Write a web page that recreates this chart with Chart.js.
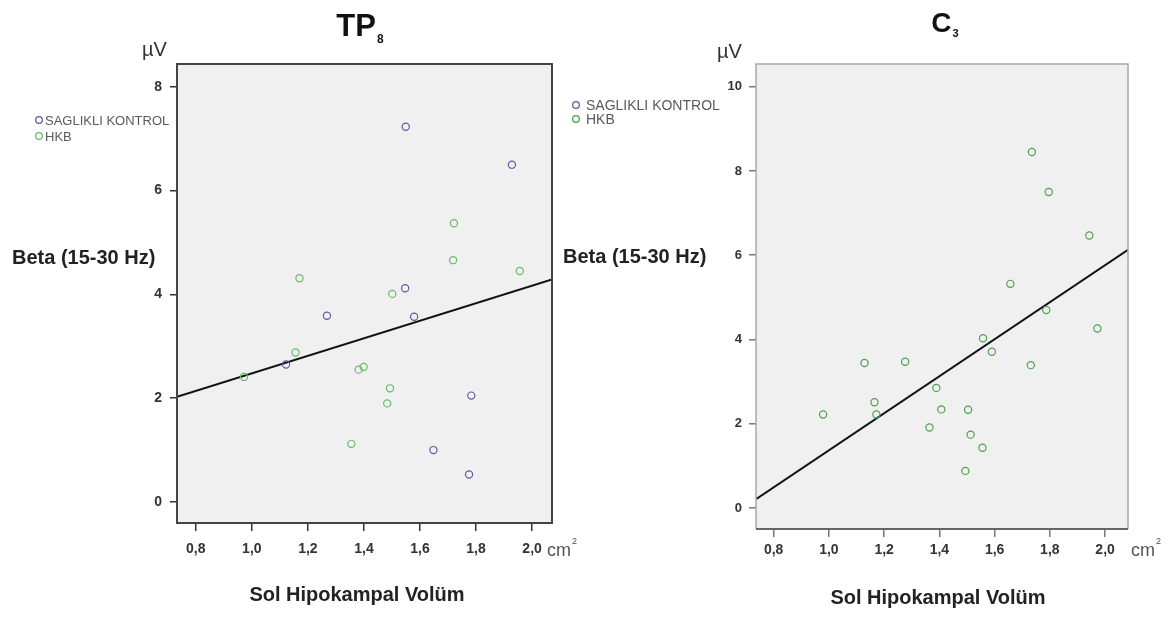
<!DOCTYPE html>
<html><head><meta charset="utf-8">
<script src="https://cdn.jsdelivr.net/npm/chart.js@4.4.1/dist/chart.umd.min.js"></script>
<style>
html,body{margin:0;padding:0;background:#fff;width:1176px;height:617px;overflow:hidden;}
canvas{position:absolute;top:0;}
#c1{left:0;}
#c2{left:556px;}
</style></head><body>
<canvas id="c1" width="590" height="617"></canvas>
<canvas id="c2" width="620" height="617"></canvas>
<script>
// ---------- data ----------
const seriesNames = ['SAGLIKLI KONTROL', 'HKB'];

// TP8 panel
const tp8KontrolX = [1.549, 1.928, 1.547, 1.268, 1.579, 1.122, 1.783, 1.648, 1.775];
const tp8KontrolY = [7.23, 6.50, 4.12, 3.59, 3.57, 2.65, 2.05, 1.00, 0.53];
const tp8HkbX = [1.721, 1.718, 1.956, 1.170, 1.501, 1.156, 0.972, 1.381, 1.399, 1.493, 1.483, 1.355];
const tp8HkbY = [5.37, 4.66, 4.45, 4.31, 4.01, 2.88, 2.41, 2.55, 2.60, 2.19, 1.90, 1.12];
const tp8FitX = [0.733, 2.071];
const tp8FitY = [2.025, 4.29];

// C3 panel
const c3HkbX = [1.735, 1.796, 1.943, 1.657, 1.787, 1.972, 1.558, 1.590, 1.731, 1.129, 1.276, 1.389, 1.165, 1.172, 0.979, 1.407, 1.504, 1.364, 1.513, 1.556, 1.494];
const c3HkbY = [8.45, 7.50, 6.47, 5.32, 4.70, 4.26, 4.03, 3.71, 3.39, 3.44, 3.47, 2.85, 2.51, 2.22, 2.22, 2.34, 2.33, 1.91, 1.74, 1.43, 0.88];
const c3KontrolX = [];
const c3KontrolY = [];
const c3FitX = [0.736, 2.083];
const c3FitY = [0.21, 6.13];

// ticks
const xTicks = [0.8, 1.0, 1.2, 1.4, 1.6, 1.8, 2.0];
const xTickLabels = ['0,8', '1,0', '1,2', '1,4', '1,6', '1,8', '2,0'];
const tp8YTicks = [0, 2, 4, 6, 8];
const c3YTicks = [0, 2, 4, 6, 8, 10];

const xAxisTitle = 'Sol Hipokampal Volüm';
const yAxisTitle = 'Beta (15-30 Hz)';
const yUnit = 'µV';
const xUnit = 'cm';

// ---------- helpers ----------
const FAM = '"Liberation Sans", Arial, sans-serif';
function pts(xs, ys) { return xs.map((x, i) => ({ x: x, y: ys[i] })); }

function makeChart(canvasId, opt) {
  const cv = document.getElementById(canvasId);
  const W = cv.width, H = cv.height, ox = opt.canvasLeft;
  const area = opt.area; // page coords
  const L = area.left - ox, R = area.right - ox;

  const decor = {
    id: 'decor_' + canvasId,
    beforeDraw(chart) {
      const ctx = chart.ctx, a = chart.chartArea;
      ctx.save();
      ctx.fillStyle = '#f0f0f0';
      ctx.fillRect(a.left, a.top, a.right - a.left, a.bottom - a.top);
      ctx.restore();
    },
    afterDraw(chart) {
      const ctx = chart.ctx, a = chart.chartArea;
      ctx.save();
      // frame
      if (opt.frame === 'dark') {
        ctx.strokeStyle = '#444'; ctx.lineWidth = 2;
        ctx.strokeRect(a.left, a.top, a.right - a.left, a.bottom - a.top);
      } else {
        ctx.strokeStyle = '#a8a8a8'; ctx.lineWidth = 1.5;
        ctx.beginPath();
        ctx.moveTo(a.left, a.bottom); ctx.lineTo(a.left, a.top);
        ctx.lineTo(a.right, a.top); ctx.lineTo(a.right, a.bottom);
        ctx.stroke();
        ctx.strokeStyle = '#666'; ctx.lineWidth = 2;
        ctx.beginPath(); ctx.moveTo(a.left, a.bottom); ctx.lineTo(a.right, a.bottom); ctx.stroke();
      }
      const T = opt.text;
      ctx.textBaseline = 'alphabetic';
      // title with subscript
      ctx.fillStyle = '#111';
      ctx.font = 'bold ' + T.titleSize + 'px ' + FAM;
      const mw = ctx.measureText(opt.title).width;
      ctx.font = 'bold ' + T.subSize + 'px ' + FAM;
      const sw = ctx.measureText(opt.sub).width;
      const tx = T.titleCx - ox - (mw + sw + 1) / 2;
      ctx.textAlign = 'left';
      ctx.font = 'bold ' + T.titleSize + 'px ' + FAM;
      ctx.fillText(opt.title, tx, T.titleBase);
      ctx.font = 'bold ' + T.subSize + 'px ' + FAM;
      ctx.fillText(opt.sub, tx + mw + 1, T.subBase);
      // unit µV
      ctx.fillStyle = '#333';
      ctx.font = '20px ' + FAM;
      ctx.fillText(yUnit, T.uvX - ox, T.uvBase);
      // y axis title
      ctx.fillStyle = '#222';
      ctx.font = 'bold 20px ' + FAM;
      ctx.fillText(yAxisTitle, T.betaX - ox, T.betaBase);
      // x axis title
      ctx.textAlign = 'center';
      ctx.fillText(xAxisTitle, T.xtCx - ox, T.xtBase);
      // cm²
      ctx.textAlign = 'left';
      ctx.fillStyle = '#555';
      ctx.font = '18px ' + FAM;
      ctx.fillText(xUnit, T.cmX - ox, T.cmBase);
      const cw = ctx.measureText(xUnit).width;
      ctx.font = '9px ' + FAM;
      ctx.fillText('2', T.cmX - ox + cw + 1, T.cmBase - 12);
      // legend
      const cols = opt.colors;
      for (let i = 0; i < seriesNames.length; i++) {
        const cy = T.legY[i];
        ctx.strokeStyle = cols[i]; ctx.lineWidth = 1.3;
        ctx.beginPath(); ctx.arc(T.legCx - ox, cy, 3.3, 0, Math.PI * 2); ctx.stroke();
        ctx.fillStyle = '#5a5a5a';
        ctx.font = T.legSize + 'px ' + FAM;
        ctx.fillText(seriesNames[i], T.legTx - ox, cy + T.legSize * 0.36);
      }
      ctx.restore();
    }
  };

  const datasets = [];
  opt.series.forEach((s, i) => {
    datasets.push({
      type: 'scatter', label: seriesNames[i], data: pts(s.x, s.y),
      pointStyle: 'circle', pointRadius: 3.6, pointBorderWidth: 1.2,
      pointBackgroundColor: 'rgba(0,0,0,0)', pointBorderColor: opt.colors[i]
    });
  });
  datasets.push({
    type: 'line', label: 'fit', data: pts(opt.fitX, opt.fitY),
    borderColor: '#111', borderWidth: 2, pointRadius: 0, fill: false, tension: 0
  });

  return new Chart(cv, {
    type: 'scatter',
    data: { datasets: datasets },
    options: {
      responsive: false, animation: false, devicePixelRatio: 1,
      layout: { padding: { left: 0, top: area.top, right: W - R, bottom: 0 } },
      plugins: { legend: { display: false }, tooltip: { enabled: false } },
      scales: {
        x: {
          type: 'linear', min: opt.xMin, max: opt.xMax,
          afterFit(s) { s.height = H - area.bottom; },
          afterBuildTicks(s) { s.ticks = xTicks.map(v => ({ value: v })); },
          ticks: {
            callback: (v) => { const k = xTicks.findIndex(t => Math.abs(t - v) < 1e-6); return k >= 0 ? xTickLabels[k] : ''; },
            font: { family: FAM, size: 14, weight: 'bold' }, color: '#333', padding: opt.xPad, maxRotation: 0, autoSkip: false
          },
          grid: { display: true, drawOnChartArea: false, drawTicks: true, tickLength: 8, color: opt.tickColor, lineWidth: 1.5 },
          border: { display: false }
        },
        y: {
          type: 'linear', min: opt.yMin, max: opt.yMax,
          afterFit(s) { s.width = L; },
          afterBuildTicks(s) { s.ticks = opt.yTicks.map(v => ({ value: v })); },
          ticks: {
            callback: (v) => String(v),
            font: { family: FAM, size: opt.ySize, weight: 'bold' }, color: '#333', padding: opt.yPad, autoSkip: false
          },
          grid: { display: true, drawOnChartArea: false, drawTicks: true, tickLength: 7, color: opt.tickColor, lineWidth: 1.5 },
          border: { display: false }
        }
      }
    },
    plugins: [decor]
  });
}

makeChart('c1', {
  canvasLeft: 0,
  area: { left: 177, right: 552, top: 64, bottom: 523 },
  xMin: 0.733, xMax: 2.071, yMin: -0.405, yMax: 8.44, yTicks: tp8YTicks,
  series: [{ x: tp8KontrolX, y: tp8KontrolY }, { x: tp8HkbX, y: tp8HkbY }],
  fitX: tp8FitX, fitY: tp8FitY,
  colors: ['#5c5ca6', '#6cb86c'], frame: 'dark', tickColor: '#333',
  xPad: 10, yPad: 8, ySize: 14, title: 'TP', sub: '8',
  text: {
    titleCx: 360, titleBase: 36, titleSize: 31, subSize: 12, subBase: 43,
    uvX: 142, uvBase: 56, betaX: 12, betaBase: 264,
    xtCx: 357, xtBase: 601, cmX: 547, cmBase: 556,
    legCx: 39, legTx: 45, legY: [120, 136], legSize: 13
  }
});

makeChart('c2', {
  canvasLeft: 556,
  area: { left: 756, right: 1128, top: 64, bottom: 529 },
  xMin: 0.736, xMax: 2.083, yMin: -0.50, yMax: 10.54, yTicks: c3YTicks,
  series: [{ x: c3KontrolX, y: c3KontrolY }, { x: c3HkbX, y: c3HkbY }],
  fitX: c3FitX, fitY: c3FitY,
  colors: ['#5c5ca6', '#4f9f4f'], frame: 'light', tickColor: '#777',
  xPad: 5, yPad: 7, ySize: 13, title: 'C', sub: '3',
  text: {
    titleCx: 945, titleBase: 32, titleSize: 28, subSize: 11, subBase: 37,
    uvX: 717, uvBase: 58, betaX: 563, betaBase: 263,
    xtCx: 938, xtBase: 604, cmX: 1131, cmBase: 556,
    legCx: 576, legTx: 586, legY: [105, 119], legSize: 14
  }
});
</script>
</body></html>
